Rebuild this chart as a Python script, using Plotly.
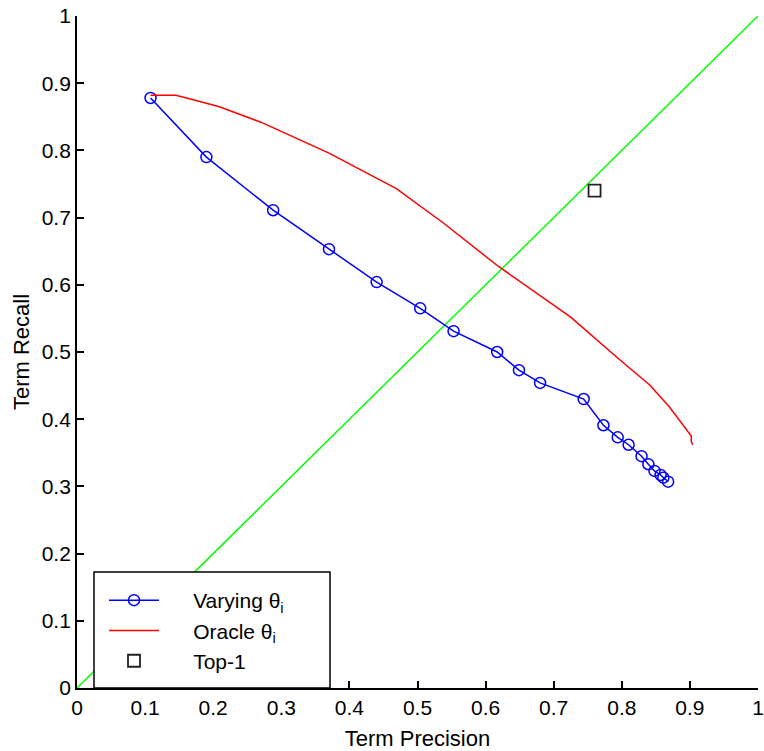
import plotly.graph_objects as go

# Varying theta_i (blue, circles)
vary_prec = [0.108, 0.190, 0.288, 0.370, 0.440, 0.504, 0.553, 0.617, 0.649, 0.680,
             0.744, 0.773, 0.794, 0.810, 0.829, 0.839, 0.848, 0.857, 0.861, 0.868]
vary_rec = [0.878, 0.790, 0.711, 0.653, 0.604, 0.565, 0.531, 0.500, 0.473, 0.454,
            0.430, 0.391, 0.373, 0.362, 0.345, 0.333, 0.323, 0.317, 0.313, 0.307]

# Oracle theta_i (red line)
oracle_prec = [0.108, 0.145, 0.172, 0.209, 0.270, 0.370, 0.469, 0.538, 0.618, 0.725,
               0.794, 0.841, 0.870, 0.893, 0.902, 0.902, 0.904]
oracle_rec = [0.882, 0.882, 0.875, 0.865, 0.842, 0.796, 0.743, 0.692, 0.628, 0.552,
              0.491, 0.451, 0.418, 0.387, 0.375, 0.367, 0.362]

# Diagonal (precision = recall)
diag = [0, 1]

# Top-1 point
top1_prec = [0.760]
top1_rec = [0.740]

tick_vals = [0, 0.1, 0.2, 0.3, 0.4, 0.5, 0.6, 0.7, 0.8, 0.9, 1]
tick_text = ["0", "0.1", "0.2", "0.3", "0.4", "0.5", "0.6", "0.7", "0.8", "0.9", "1"]

FONT = "Liberation Sans, Arial, sans-serif"
PAD = "\u00a0\u00a0\u00a0\u00a0\u00a0"

fig = go.Figure()
fig.add_trace(go.Scatter(x=diag, y=diag, mode="lines", line=dict(color="#00ff00", width=1.5),
                         showlegend=False, hoverinfo="skip"))
fig.add_trace(go.Scatter(x=vary_prec, y=vary_rec, mode="lines+markers", name=PAD + "Varying θ<sub>i</sub>",
                         line=dict(color="#0000ff", width=1.5),
                         marker=dict(symbol="circle-open", size=11, color="#0000ff", line=dict(width=1.5))))
fig.add_trace(go.Scatter(x=oracle_prec, y=oracle_rec, mode="lines", name=PAD + "Oracle θ<sub>i</sub>",
                         line=dict(color="#ff0000", width=1.5)))
fig.add_trace(go.Scatter(x=top1_prec, y=top1_rec, mode="markers", name=PAD + "Top-1",
                         marker=dict(symbol="square-open", size=12, color="#222222", line=dict(width=1.8))))

W, H = 764, 751
L, R, T, B = 77, 6, 16, 63
pw, ph = W - L - R, H - T - B

axis_common = dict(range=[0, 1], tickvals=tick_vals, ticktext=tick_text, ticks="inside", ticklen=7,
                   tickwidth=1.5, tickcolor="black", showline=True, linecolor="black", linewidth=1.8,
                   showgrid=False, zeroline=False, tickfont=dict(family=FONT, size=21, color="black"),
                   mirror=False, automargin=False, fixedrange=True, ticklabeloverflow="allow")

fig.update_layout(
    width=W, height=H,
    margin=dict(l=L, r=R, t=T, b=B),
    paper_bgcolor="white", plot_bgcolor="white",
    font=dict(family=FONT, size=21, color="black"),
    xaxis=dict(**axis_common, title=dict(text="Term Precision", font=dict(family=FONT, size=22), standoff=13)),
    yaxis=dict(**axis_common, title=dict(text="Term Recall", font=dict(family=FONT, size=22), standoff=6)),
    legend=dict(x=(104 - L) / pw, y=(688 - 580) / ph, xanchor="left", yanchor="top",
                bgcolor="rgba(0,0,0,0)", borderwidth=0, itemwidth=50,
                font=dict(family=FONT, size=21, color="black"), tracegroupgap=0),
    shapes=[dict(type="rect", xref="paper", yref="paper",
                 x0=(94 - L) / pw, x1=(330 - L) / pw, y0=0, y1=(688 - 572) / ph,
                 fillcolor="white", line=dict(color="black", width=1.5), layer="above")],
)

fig.write_html("out.html", config={"displayModeBar": False},
               post_script="document.body.style.margin='0';document.body.style.overflow='hidden';")
